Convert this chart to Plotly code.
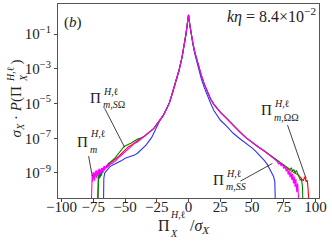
import plotly.graph_objects as go

# ---------------- data (log10 of sigma_X * P) ----------------
core_x = [-35, -32.5, -30, -27.5, -25, -22.5, -20, -17.5, -15, -12.5, -10, -7.5, -5, -3.5, -2, -1, 0,
          1, 2, 3.5, 5, 7.5, 10, 12.5, 15, 17.5, 20, 22.5, 25, 30, 35, 40, 45, 50, 55, 60]
core_log = [-6.9, -6.75, -6.6, -6.45, -6.2, -5.95, -5.7, -5.35, -4.95, -4.35, -3.75, -3.1, -2.3, -1.75, -1.0, -0.45, 0.1,
            -0.45, -0.95, -1.55, -2.05, -2.75, -3.35, -3.9, -4.35, -4.75, -5.05, -5.3, -5.5, -5.85, -6.25, -6.6, -6.95, -7.25, -7.5, -7.75]

# Pi_m (magenta)
m_left_x = [-76.6, -76.3, -75.9, -75.5, -75.1, -74.7, -74.3, -73.9, -73.5, -73.1, -72.7, -72.3, -71.9, -71.5, -71.1,
            -70.7, -70.3, -69.9, -69.5, -69.1, -68.6, -68.1, -67.6, -67.1, -66.6, -66.1, -65.6, -65.1, -64.6, -64.1,
            -63.6, -63.1, -62.6, -62.0, -61.0, -60.0, -59.0, -58.0, -57.0, -56.0, -55.0, -54.0, -52.5, -50.0, -47.5,
            -45.0, -42.5, -40.0, -37.5]
m_left_log = [-11.0, -9.6, -9.1, -9.5, -8.95, -9.35, -9.0, -9.45, -8.9, -9.2, -8.85, -9.3, -8.9, -9.15, -8.8,
              -9.1, -8.75, -9.0, -8.8, -9.05, -8.7, -8.95, -8.7, -8.9, -8.6, -8.85, -8.6, -8.75, -8.55, -8.7,
              -8.5, -8.65, -8.5, -8.55, -8.45, -8.45, -8.35, -8.35, -8.25, -8.2, -8.1, -8.05, -7.95, -7.8, -7.6,
              -7.45, -7.3, -7.2, -7.05]
m_right_x = [63, 66, 68, 70, 71, 72, 73, 74, 75, 76, 77, 77.8, 78.5, 79.2, 80, 80.7, 81.4, 82, 82.7, 83.3,
             84, 84.6, 85.3, 86, 86.6, 87]
m_right_log = [-7.95, -8.1, -8.22, -8.35, -8.5, -8.38, -8.6, -8.47, -8.75, -8.6, -8.9, -8.7, -9.1, -8.85, -9.25,
               -8.95, -9.4, -9.05, -9.6, -9.2, -9.8, -9.35, -10.1, -9.6, -10.3, -11.0]

# Pi_m,SOmega (green)
g_left_x = [-71.4, -71.2, -70.8, -70.4, -70.0, -69.5, -69.0, -68.5, -68.0, -67.5, -67.0, -66.0, -65.0, -64.0,
            -63.0, -62.0, -61.0, -60.0, -59.0, -58.0, -57.0, -56.0, -55.0, -54.0, -53.0, -52.0, -51.0, -50.0,
            -49.0, -48.0, -47.0, -46.0, -45.0, -44.0, -42.5, -40.0, -37.5]
g_left_log = [-11.0, -9.4, -9.1, -9.35, -9.0, -9.25, -8.95, -9.15, -8.85, -9.0, -8.75, -8.7, -8.6, -8.55,
              -8.45, -8.4, -8.35, -8.3, -8.2, -8.15, -8.05, -7.95, -7.85, -7.75, -7.65, -7.55, -7.5, -7.45,
              -7.42, -7.38, -7.35, -7.3, -7.27, -7.22, -7.15, -7.05, -6.98]
g_right_x = [65, 70, 72, 74, 76, 78, 80, 81, 82, 83, 84, 85, 86, 87, 88, 89, 89.8, 90.2]
g_right_log = [-8.02, -8.27, -8.4, -8.5, -8.6, -8.7, -8.8, -8.7, -8.9, -8.8, -9.0, -8.85, -9.1, -9.2, -9.4,
               -9.35, -9.8, -11.0]

# Pi_m,OmegaOmega (red)
r_left_x = [-71.8, -71.5, -71.0, -70.0, -69.0, -68.0, -67.0, -65.0, -63.0, -60.0, -57.0, -55.0, -52.5, -50.0,
            -47.5, -45.0, -42.5, -40.0, -37.5]
r_left_log = [-11.0, -9.5, -9.2, -9.1, -9.0, -8.9, -8.8, -8.65, -8.5, -8.35, -8.2, -8.05, -7.85, -7.65,
              -7.5, -7.4, -7.25, -7.12, -7.0]
r_right_x = [65, 70, 75, 78, 80, 83, 85, 87, 89, 90.5, 91.3, 92, 92.7, 93.5, 94.2, 95]
r_right_log = [-8.04, -8.32, -8.6, -8.75, -8.85, -8.95, -9.05, -9.15, -9.3, -9.45, -9.25, -9.3, -9.5, -9.4,
               -9.9, -11.0]

# Pi_m,SS (blue)
b_x = [-67.0, -66.7, -66.0, -64.0, -62.0, -60.0, -57.0, -53.0, -50.0, -45.0, -42.5, -40.0, -36.0, -33.5,
       -31.0, -29.0, -27.0, -25.0, -22.5, -20, -17.5, -15, -12.5, -10, -7.5, -5, -3.5, -2, -1, 0,
       1, 2, 3.5, 5, 7.5, 10, 12.5, 15, 17.5, 20, 22.5, 25, 30, 35, 40, 43, 46, 48, 50, 53, 55, 58, 60,
       62, 64, 65.5, 67, 68, 68.5]
b_log = [-11.0, -9.3, -9.0, -8.8, -8.65, -8.55, -8.45, -8.3, -8.15, -8.05, -7.97, -7.85, -7.6, -7.4,
         -7.15, -6.95, -6.65, -6.3, -5.97, -5.7, -5.35, -4.95, -4.35, -3.75, -3.1, -2.3, -1.75, -1.0, -0.45, 0.1,
         -0.45, -0.97, -1.6, -2.15, -2.9, -3.55, -4.1, -4.6, -5.0, -5.4, -5.7, -5.95, -6.3, -6.7, -7.0, -7.15,
         -7.3, -7.45, -7.55, -7.75, -7.9, -8.15, -8.3, -8.5, -8.75, -8.95, -9.2, -9.5, -11.0]

x_ticks = [-100, -75, -50, -25, 0, 25, 50, 75, 100]
y_tick_exps = [-1, -3, -5, -7, -9]

FONT = "Liberation Serif"
INK = "#222222"


def series(lx, ll, rx, rl):
    xs = lx + core_x + rx
    ls = ll + core_log + rl
    return xs, [10 ** v for v in ls]


fig = go.Figure()
bx, by = b_x, [10 ** v for v in b_log]
rx, ry = series(r_left_x, r_left_log, r_right_x, r_right_log)
gx, gy = series(g_left_x, g_left_log, g_right_x, g_right_log)
mx, my = series(m_left_x, m_left_log, m_right_x, m_right_log)
for xs, ys, col in [(rx, ry, "#ff0000"), (bx, by, "#2f2fff"), (gx, gy, "#008000"), (mx, my, "#ff00ff")]:
    fig.add_trace(go.Scatter(x=xs, y=ys, mode="lines", line=dict(color=col, width=1.1),
                             hoverinfo="skip"))

ann = []


def txt(text, x, y, xref="x", yref="y", size=14, xanchor="center", yanchor="middle", xshift=0, yshift=0,
        angle=0):
    ann.append(dict(text=text, x=x, y=y, xref=xref, yref=yref, showarrow=False, xanchor=xanchor,
                    yanchor=yanchor, xshift=xshift, yshift=yshift, textangle=angle,
                    font=dict(family=FONT, size=size, color=INK)))


def pi_label(x, y, sup, sub, dy_sup=7, dy_sub=-7):
    txt("Π", x, y, xanchor="right", size=15, xshift=3)
    txt(sup, x, y, xanchor="left", size=10, xshift=1, yshift=dy_sup)
    txt(sub, x, y, xanchor="left", size=10, xshift=1, yshift=dy_sub)


SUP = "<i>H</i>,ℓ"
pi_label(-70.1, -4.69, SUP, "<i>m</i>,<i>S</i>Ω", 7, -6)
pi_label(-80.3, -7.22, SUP, "<i>m</i>", 9, -7)
pi_label(64.6, -5.38, SUP, "<i>m</i>,ΩΩ", 7, -7)
pi_label(27.2, -9.40, SUP, "<i>m</i>,<i>SS</i>", 6, -7)

# corner texts
txt("(<i>b</i>)", 0.017, 0.905, xref="paper", yref="paper", xanchor="left", size=15)
txt("<i>kη</i> = 8.4×10<sup>−2</sup>", 0.995, 0.94, xref="paper", yref="paper", xanchor="right", size=16)


def px_x(px):
    return (px - 58) / 261


def px_y(py):
    return (198 - py) / 194


# x-axis title (stacked super/subscripts)
txt("Π", px_x(172), px_y(225), xref="paper", yref="paper", xanchor="right", size=16)
txt(SUP, px_x(168), px_y(215), xref="paper", yref="paper", xanchor="left", size=10)
txt("<i>X</i>", px_x(168), px_y(233), xref="paper", yref="paper", xanchor="left", size=10)
txt("/<i>σ</i><sub><i>X</i></sub>", px_x(188), px_y(227), xref="paper", yref="paper", xanchor="left", size=16)

# y-axis title (rotated)
txt("<i>σ</i><sub><i>X</i></sub> · <i>P</i>(Π", px_x(17), px_y(85), xref="paper", yref="paper",
    yanchor="top", size=15, angle=-90)
txt(SUP, px_x(10), px_y(84), xref="paper", yref="paper", yanchor="bottom", size=10, angle=-90)
txt("<i>X</i>", px_x(23), px_y(84), xref="paper", yref="paper", yanchor="bottom", size=10, angle=-90)
txt(")", px_x(16), px_y(67), xref="paper", yref="paper", yanchor="bottom", size=15, angle=-90)

# leader lines (shape coordinates on a log axis are data values)
leaders = [(-66.1, -5.27, -50.4, -7.51), (-78.7, -8.03, -75.8, -9.18),
           (78.0, -6.24, 92.7, -9.33), (40.9, -9.47, 66.1, -8.45)]
shapes = []
for (x0, y0, x1, y1) in leaders:
    shapes.append(dict(type="line", xref="x", yref="y", x0=x0, y0=10 ** y0, x1=x1, y1=10 ** y1,
                       line=dict(color="#111111", width=0.8)))

fig.update_layout(
    width=332, height=242,
    margin=dict(l=58, r=13, t=4, b=44),
    plot_bgcolor="white", paper_bgcolor="white",
    showlegend=False,
    font=dict(family=FONT, size=14, color=INK),
    annotations=ann, shapes=shapes,
    xaxis=dict(range=[-102.8, 102.8], tickmode="array", tickvals=x_ticks,
               ticktext=[("−" + str(-v)) if v < 0 else str(v) for v in x_ticks],
               ticks="outside", ticklen=3, tickcolor="#444", showline=True, mirror=True,
               linecolor="#555", linewidth=1, showgrid=False, zeroline=False,
               ticklabelstandoff=-8,
               tickfont=dict(family=FONT, size=15, color=INK)),
    yaxis=dict(type="log", range=[-10.44, 0.73], tickmode="array",
               tickvals=[10 ** e for e in y_tick_exps],
               ticktext=["10<sup>−%d</sup>" % (-e) for e in y_tick_exps],
               ticks="outside", ticklen=3, tickcolor="#444", showline=True, mirror=True,
               linecolor="#555", linewidth=1, showgrid=False, zeroline=False,
               tickfont=dict(family=FONT, size=15, color=INK)),
)

fig.write_html("out.html", config={"displayModeBar": False},
               post_script="document.body.style.margin='0';document.body.style.padding='0';"
                           "document.body.style.overflow='hidden';"
                           "document.documentElement.style.overflow='hidden';")
